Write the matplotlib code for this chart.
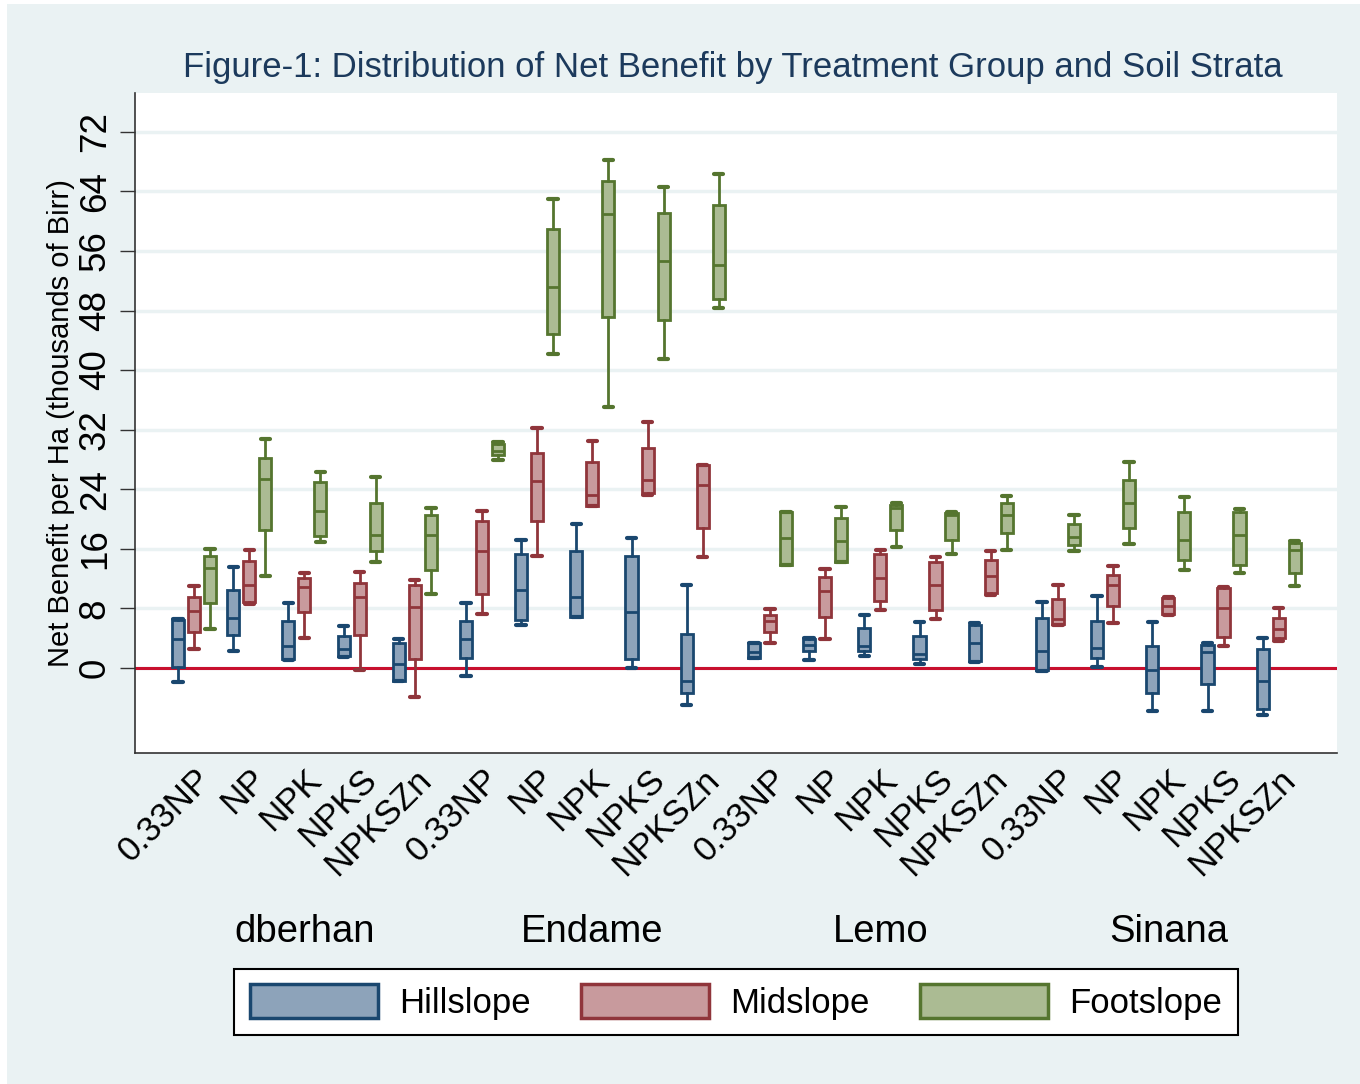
"""
Box plots of net benefit by treatment, soil stratum and site (Stata look).
"""

import matplotlib as mpl
import matplotlib.pyplot as plt
from matplotlib.patches import Patch, Rectangle
from matplotlib.transforms import blended_transform_factory

mpl.rcParams['font.family'] = ['Liberation Sans', 'DejaVu Sans']

sites = ['dberhan', 'Endame', 'Lemo', 'Sinana']
treatments = ['0.33NP', 'NP', 'NPK', 'NPKS', 'NPKSZn']
strata = ['Hillslope', 'Midslope', 'Footslope']

# (lower whisker, q1, median, q3, upper whisker), site-major, thousands of Birr
hillslope = [
    (-1.9, 0.1, 3.9, 6.4, 6.6), (2.3, 4.5, 6.7, 10.5, 13.6), (1.1, 1.2, 2.9, 6.3, 8.8),
    (1.5, 1.6, 2.6, 4.3, 5.6), (-1.8, -1.7, 0.6, 3.3, 3.9),
    (-1.1, 1.3, 3.9, 6.3, 8.8), (5.8, 6.5, 10.5, 15.3, 17.2), (6.8, 6.9, 9.5, 15.7, 19.4),
    (0.0, 1.2, 7.5, 15.1, 17.5), (-5.0, -3.4, -1.7, 4.6, 11.2),
    (1.3, 1.4, 2.2, 3.3, 3.4), (1.1, 2.3, 3.1, 3.9, 4.0), (1.6, 2.3, 3.0, 5.4, 7.1),
    (0.6, 1.2, 1.9, 4.3, 6.2), (0.8, 0.9, 3.3, 5.8, 6.0),
    (-0.4, -0.3, 2.3, 6.7, 8.9), (0.2, 1.4, 2.7, 6.3, 9.7), (-5.8, -3.3, -0.3, 3.0, 6.2),
    (-5.8, -2.2, 2.1, 3.1, 3.3), (-6.3, -5.5, -1.8, 2.6, 4.0),
]
midslope = [
    (2.5, 4.8, 7.7, 9.5, 11.0), (8.6, 8.9, 11.2, 14.4, 15.9), (4.1, 7.5, 10.9, 12.1, 12.7),
    (-0.2, 4.5, 9.5, 11.4, 12.9), (-3.9, 1.2, 8.2, 11.1, 11.8),
    (7.3, 9.9, 15.7, 19.7, 21.1), (15.1, 19.8, 25.1, 28.9, 32.2), (21.7, 21.8, 23.3, 27.6, 30.5),
    (23.3, 23.5, 25.2, 29.6, 33.0), (14.9, 18.8, 24.6, 27.2, 27.3),
    (3.3, 4.8, 6.3, 7.1, 7.9), (3.9, 6.9, 10.3, 12.2, 13.3), (7.8, 9.0, 12.1, 15.3, 15.9),
    (6.6, 7.8, 11.2, 14.2, 14.9), (9.8, 10.1, 12.3, 14.5, 15.7),
    (5.8, 5.9, 6.6, 9.3, 11.2), (6.1, 8.3, 11.2, 12.5, 13.7), (7.1, 7.2, 8.3, 9.4, 9.6),
    (2.9, 4.2, 8.1, 10.8, 10.9), (3.6, 4.1, 5.2, 6.7, 8.1),
]
footslope = [
    (5.3, 8.8, 13.5, 15.0, 16.0), (12.3, 18.6, 25.4, 28.2, 30.7), (16.9, 17.7, 21.1, 25.0, 26.3),
    (14.2, 15.7, 17.9, 22.2, 25.6), (9.9, 13.2, 17.8, 20.5, 21.5),
    (27.9, 28.6, 29.2, 30.1, 30.3), (42.1, 44.8, 51.2, 58.9, 63.0), (35.0, 47.1, 60.9, 65.4, 68.2),
    (41.5, 46.7, 54.6, 61.1, 64.6), (48.3, 49.5, 54.1, 62.2, 66.3),
    (13.8, 13.9, 17.5, 20.9, 21.0), (14.2, 14.3, 17.1, 20.2, 21.6), (16.3, 18.5, 21.5, 21.9, 22.1),
    (15.3, 17.2, 20.5, 20.8, 20.9), (15.9, 18.2, 20.5, 22.1, 23.1),
    (15.7, 16.5, 17.6, 19.3, 20.6), (16.6, 18.8, 22.1, 25.3, 27.7), (13.2, 14.5, 17.2, 20.9, 22.9),
    (12.8, 13.9, 17.9, 21.0, 21.3), (11.0, 12.7, 15.8, 16.8, 17.1),
]
yticks = [0, 8, 16, 24, 32, 40, 48, 56, 64, 72]

edge_colors = ['#1a476f', '#90353b', '#55752f']
fill_colors = ['#8da3ba', '#c89a9d', '#abbb93']
bg = '#eaf2f3'

# layout (x in "treatment" units)
group_step = 5.217
slope_step = 0.29
box_w = 0.22
lw = 2.0

fig = plt.figure(figsize=(13.6, 10.84), dpi=100, facecolor='white')
fig.patches.append(Rectangle((7 / 1360, 0), 1, 1 - 4 / 1084, transform=fig.transFigure,
                             facecolor=bg, edgecolor='none', zorder=-10))
ax = fig.add_axes([135 / 1360, 331 / 1084, 1202 / 1360, 660 / 1084])
ax.set_facecolor('white')

for s, (name, data) in enumerate(zip(strata, [hillslope, midslope, footslope])):
    stats = []
    positions = []
    for i, (lo, q1, med, q3, hi) in enumerate(data):
        g, t = divmod(i, len(treatments))
        positions.append(g * group_step + t + (s - 1) * slope_step)
        stats.append(dict(whislo=lo, q1=q1, med=med, q3=q3, whishi=hi, fliers=[]))
    ec = edge_colors[s]
    ax.bxp(stats, positions=positions, widths=box_w, patch_artist=True,
           showfliers=False, capwidths=0.17, manage_ticks=False,
           boxprops=dict(facecolor=fill_colors[s], edgecolor=ec, linewidth=lw),
           medianprops=dict(color=ec, linewidth=lw),
           whiskerprops=dict(color=ec, linewidth=lw),
           capprops=dict(color=ec, linewidth=lw + 1, solid_capstyle='round'),
           zorder=3)

ax.axhline(0, color='#c8102e', linewidth=2.2, zorder=2)

ax.set_ylim(-11.4, 77.2)
ax.set_xlim(-1.069, 20.707)
ax.set_yticks(yticks)
ax.set_yticklabels([str(v) for v in yticks], rotation=90, va='center', fontsize=26.5)
ax.yaxis.grid(True, color=bg, linewidth=2.5)
ax.set_axisbelow(True)
ax.tick_params(axis='y', length=11, width=1, pad=5, colors='#333333', labelcolor='black')

xpos = [g * group_step + t for g in range(len(sites)) for t in range(len(treatments))]
ax.set_xticks(xpos)
ax.set_xticklabels(treatments * len(sites), rotation=45, ha='right', va='top',
                   rotation_mode='anchor', fontsize=25)
ax.tick_params(axis='x', length=0, pad=7)

for side in ['top', 'right']:
    ax.spines[side].set_visible(False)
ax.spines['left'].set_color('#333333')
ax.spines['bottom'].set_color('#333333')
ax.spines['left'].set_linewidth(1.2)
ax.spines['bottom'].set_linewidth(1.2)

ax.set_ylabel('Net Benefit per Ha (thousands of Birr)', fontsize=21)
ax.yaxis.set_label_coords(-0.05, 0.5)

trans = blended_transform_factory(ax.transData, ax.transAxes)
for g, site in enumerate(sites):
    ax.text(g * group_step + 2, -0.271, site, transform=trans, ha='center', va='center',
            fontsize=27.5)

fig.text(0.539, 0.938, 'Figure-1: Distribution of Net Benefit by Treatment Group and Soil Strata',
         ha='center', va='center', fontsize=25, color='#1c3a5c')

handles = [Patch(facecolor=fill_colors[i], edgecolor=edge_colors[i], linewidth=2.5, label=strata[i])
           for i in range(3)]
leg = fig.legend(handles=handles, loc='center', bbox_to_anchor=(0.541, 0.0756), ncol=3,
                 fontsize=25, handlelength=3.7, handleheight=1.1, handletextpad=0.6,
                 columnspacing=1.45, borderpad=0.45, fancybox=False, framealpha=1,
                 edgecolor='black')
leg.get_frame().set_linewidth(1.5)

fig.savefig('out.png', dpi=100, facecolor=fig.get_facecolor())
